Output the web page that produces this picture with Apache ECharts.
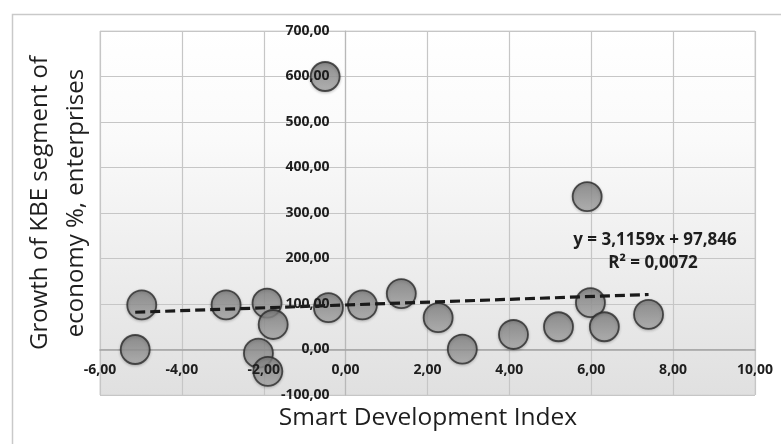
<!DOCTYPE html>
<html>
<head>
<meta charset="utf-8">
<script src="https://cdn.jsdelivr.net/npm/echarts@6/dist/echarts.min.js"></script>
<style>
html,body{margin:0;padding:0;background:#fff;}
#c{width:781px;height:444px;}
</style>
</head>
<body>
<div id="c"></div>
<script>
// Data
const xValues = [-5.14, -4.98, -2.92, -1.92, -1.77, -2.13, -1.90, -0.50, -0.42, 0.41, 1.36, 2.26, 2.85, 4.10, 5.20, 5.90, 5.98, 6.32, 7.40];
const yValues = [0, 98, 98, 102, 55, -8, -48, 600, 92, 98, 123, 70, 1, 33, 50, 336, 103, 50, 77];
const trendSlope = 3.1159;
const trendIntercept = 97.846;
const equationLines = ['y = 3,1159x + 97,846', 'R² = 0,0072'];
const xTitle = 'Smart Development Index';
const yTitleLines = ['Growth of KBE segment of', 'economy %, enterprises'];

const points = xValues.map((x, i) => [x, yValues[i]]);
const xMin = Math.min(...xValues), xMax = Math.max(...xValues);
const trend = [[xMin, trendSlope * xMin + trendIntercept], [xMax, trendSlope * xMax + trendIntercept]];
const fmt = v => v.toFixed(2).replace('.', ',');
const labelStyle = { color: '#1e1e1e', fontFamily: 'Open Sans', fontWeight: 'bold', fontSize: 14 };

// grid geometry
const W = 781, H = 444;
const G = { left: 100, right: 26, top: 31, bottom: 49 };
const X_RANGE = [-6, 10], Y_RANGE = [-100, 700];
const gw = W - G.left - G.right, gh = H - G.top - G.bottom;
// distance of the zero lines from the grid's left/bottom edges (overlay label axes sit on them)
const xZeroOffset = gw * (0 - X_RANGE[0]) / (X_RANGE[1] - X_RANGE[0]);
const yZeroOffset = gh * (0 - Y_RANGE[0]) / (Y_RANGE[1] - Y_RANGE[0]);

const chart = echarts.init(document.getElementById('c'), null, { renderer: 'canvas' });
chart.setOption({
  animation: false,
  backgroundColor: '#ffffff',
  grid: {
    left: G.left, right: G.right, top: G.top, bottom: G.bottom,
    show: true,
    borderColor: '#d4d4d4', borderWidth: 1,
    backgroundColor: {
      type: 'linear', x: 0, y: 0, x2: 0, y2: 1,
      colorStops: [
        { offset: 0, color: '#ffffff' },
        { offset: 0.3, color: '#fafafa' },
        { offset: 1, color: '#e0e0e0' }
      ]
    }
  },
  xAxis: [
    {
      type: 'value', min: X_RANGE[0], max: X_RANGE[1], interval: 2, position: 'bottom', z: 1,
      offset: -yZeroOffset,
      axisLine: { show: true, onZero: false, lineStyle: { color: '#a2a2a2', width: 1.5 } },
      axisTick: { show: false },
      axisLabel: { show: false },
      splitLine: { show: true, lineStyle: { color: '#c6c6c6', width: 1.2 } }
    },
    {
      type: 'value', min: X_RANGE[0], max: X_RANGE[1], interval: 2, position: 'bottom', z: 10,
      offset: -yZeroOffset,
      axisLine: { show: false, onZero: false },
      axisTick: { show: false },
      splitLine: { show: false },
      axisLabel: Object.assign({ show: true, margin: 14, formatter: fmt }, labelStyle)
    }
  ],
  yAxis: [
    {
      type: 'value', min: Y_RANGE[0], max: Y_RANGE[1], interval: 100, position: 'left', z: 1,
      offset: -xZeroOffset,
      axisLine: { show: true, onZero: false, lineStyle: { color: '#b8b8b8', width: 1.2 } },
      axisTick: { show: false },
      axisLabel: { show: false },
      splitLine: { show: true, lineStyle: { color: '#c6c6c6', width: 1.2 } }
    },
    {
      type: 'value', min: Y_RANGE[0], max: Y_RANGE[1], interval: 100, position: 'left', z: 10,
      offset: -xZeroOffset,
      axisLine: { show: false, onZero: false },
      axisTick: { show: false },
      splitLine: { show: false },
      axisLabel: Object.assign({ show: true, margin: 16, formatter: fmt }, labelStyle)
    }
  ],
  series: [
    {
      type: 'scatter',
      xAxisIndex: 0, yAxisIndex: 0,
      data: points,
      symbol: 'circle',
      symbolSize: 29,
      z: 3,
      itemStyle: {
        color: {
          type: 'linear', x: 0, y: 0, x2: 0, y2: 1,
          colorStops: [
            { offset: 0, color: '#7e7e7e' },
            { offset: 1, color: '#aaaaaa' }
          ]
        },
        borderColor: '#2b2b2b',
        borderWidth: 1.8,
        shadowColor: 'rgba(0,0,0,0.25)',
        shadowBlur: 3,
        shadowOffsetY: 1
      }
    },
    {
      type: 'line',
      xAxisIndex: 0, yAxisIndex: 0,
      data: trend,
      symbol: 'none',
      z: 5,
      lineStyle: { color: '#1a1a1a', width: 3.2, type: [10, 5] }
    },
    {
      type: 'scatter',
      xAxisIndex: 1, yAxisIndex: 1,
      data: [],
      silent: true
    }
  ],
  graphic: [
    {
      type: 'rect', left: 10, top: 12, z: -10, silent: true,
      shape: { width: 800, height: 460 },
      style: { fill: 'none', stroke: '#c9c9c9', lineWidth: 1.5 }
    },
    {
      type: 'text', x: 428, y: 418, z: 10,
      style: { text: xTitle, fontFamily: 'Open Sans', fontSize: 24.5, fill: '#1e1e1e', textAlign: 'center', textVerticalAlign: 'middle' }
    },
    {
      type: 'text', x: 40, y: 203, rotation: Math.PI / 2, z: 10,
      style: { text: yTitleLines[0], fontFamily: 'Open Sans', fontSize: 24, fill: '#1e1e1e', textAlign: 'center', textVerticalAlign: 'middle' }
    },
    {
      type: 'text', x: 76, y: 203, rotation: Math.PI / 2, z: 10,
      style: { text: yTitleLines[1], fontFamily: 'Open Sans', fontSize: 24, fill: '#1e1e1e', textAlign: 'center', textVerticalAlign: 'middle' }
    },
    {
      type: 'text', x: 655, y: 240, z: 10,
      style: { text: equationLines[0], fontFamily: 'Open Sans', fontWeight: 'bold', fontSize: 17, fill: '#1e1e1e', textAlign: 'center', textVerticalAlign: 'middle' }
    },
    {
      type: 'text', x: 653, y: 263, z: 10,
      style: { text: equationLines[1], fontFamily: 'Open Sans', fontWeight: 'bold', fontSize: 17, fill: '#1e1e1e', textAlign: 'center', textVerticalAlign: 'middle' }
    }
  ]
});
</script>
</body>
</html>
